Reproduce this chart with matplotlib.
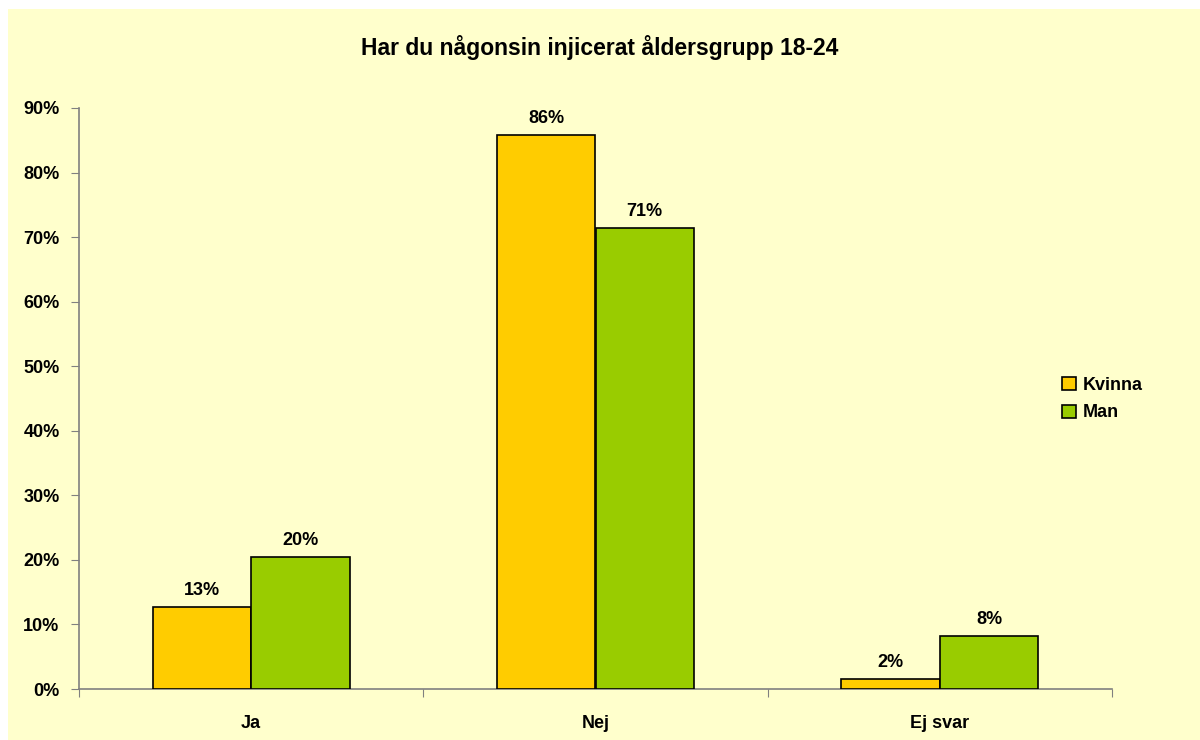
import matplotlib
matplotlib.use("Agg")
import matplotlib.pyplot as plt
from matplotlib.patches import Rectangle
import numpy as np

plt.rcParams['font.family'] = ['Liberation Sans', 'DejaVu Sans']
plt.rcParams['font.weight'] = 'bold'

title = "Har du någonsin injicerat åldersgrupp 18-24"
categories = ["Ja", "Nej", "Ej svar"]
series_names = ["Kvinna", "Man"]
kvinna = [0.127, 0.858, 0.015]
man = [0.204, 0.714, 0.082]
labels_kvinna = ["13%", "86%", "2%"]
labels_man = ["20%", "71%", "8%"]
colors = ["#FFCC00", "#99CC00"]
bg = "#FFFFCC"

fig = plt.figure(figsize=(12, 7.4), dpi=100)
fig.patch.set_facecolor("white")
fig.patches.append(Rectangle((8 / 1200, 0), 1, 1 - 9 / 740, transform=fig.transFigure,
                             facecolor=bg, edgecolor="none", zorder=-10))

ax = fig.add_axes([79 / 1200, 1 - 689 / 740, (1112 - 79) / 1200, (689 - 108) / 740])
ax.set_facecolor("none")

x = np.arange(len(categories))
w = 1 / 3.5
bars_k = ax.bar(x - w / 2, kvinna, w, color=colors[0], edgecolor="black", linewidth=1.2,
                label=series_names[0], zorder=3)
bars_m = ax.bar(x + w / 2, man, w, color=colors[1], edgecolor="black", linewidth=1.2,
                label=series_names[1], zorder=3)

for bars, labs in ((bars_k, labels_kvinna), (bars_m, labels_man)):
    for b, t in zip(bars, labs):
        ax.annotate(t, (b.get_x() + b.get_width() / 2, b.get_height()),
                    xytext=(0, 6), textcoords="offset points", ha="center", va="bottom",
                    fontsize=13, fontweight="bold")

ax.set_xlim(-0.5, len(categories) - 0.5)
ax.set_ylim(0, 0.9)
ax.set_yticks(np.arange(0, 0.91, 0.1))
ax.set_yticklabels([f"{int(round(v * 100))}%" for v in np.arange(0, 0.91, 0.1)])
ax.set_xticks(np.arange(-0.5, len(categories), 1.0))
ax.set_xticklabels([])
ax.set_xticks(x, minor=True)
ax.set_xticklabels(categories, minor=True)
ax.tick_params(axis="x", which="minor", length=0, pad=19, labelsize=13)
ax.tick_params(axis="x", which="major", length=6, color="#808080", direction="out")
ax.tick_params(axis="y", length=6, color="#808080", direction="out", pad=8, labelsize=13)

for s in ("top", "right"):
    ax.spines[s].set_visible(False)
for s in ("left", "bottom"):
    ax.spines[s].set_color("#808080")
    ax.spines[s].set_linewidth(1.2)

fig.text(0.5, 1 - 47 / 740, title, ha="center", va="center", fontsize=16.5, fontweight="bold")

fig.legend(loc="center left", bbox_to_anchor=(1055 / 1200, 1 - 399 / 740), frameon=False,
           fontsize=13, handlelength=0.75, handleheight=0.75, handletextpad=0.4,
           labelspacing=0.6, borderaxespad=0)

fig.savefig("out.png", dpi=100, facecolor=fig.get_facecolor())
